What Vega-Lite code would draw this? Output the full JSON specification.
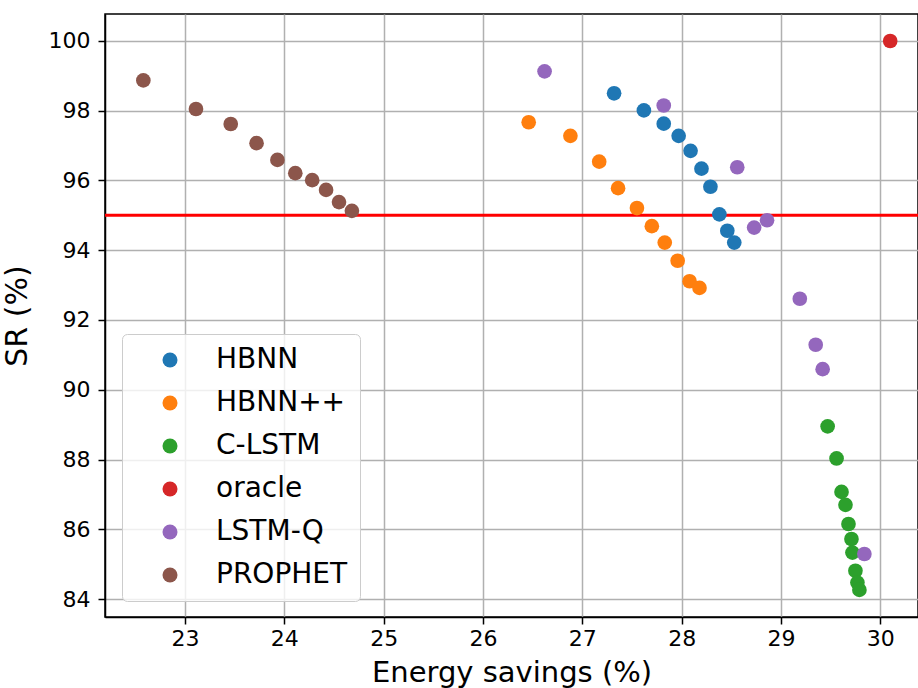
{
  "$schema": "https://vega.github.io/schema/vega-lite/v6.json",
  "width": 813,
  "height": 603,
  "autosize": {"type": "none"},
  "padding": {"left": 105, "top": 14, "right": 0, "bottom": 71},
  "background": "white",
  "config": {
    "font": "DejaVu Sans",
    "view": {"stroke": "black", "strokeWidth": 1.5},
    "axis": {
      "labelFont": "DejaVu Sans",
      "titleFont": "DejaVu Sans",
      "labelColor": "black",
      "titleColor": "black",
      "labelFontSize": 22,
      "titleFontSize": 29,
      "titleFontWeight": "normal",
      "domainColor": "black",
      "domainWidth": 1.5,
      "tickColor": "black",
      "tickWidth": 1.5,
      "tickSize": 7,
      "gridColor": "#b0b0b0",
      "gridWidth": 1.5,
      "gridOpacity": 1
    }
  },
  "datasets": {
    "points": [
      {"method": "HBNN", "es": 27.32, "sr": 98.50},
      {"method": "HBNN", "es": 27.62, "sr": 98.01},
      {"method": "HBNN", "es": 27.82, "sr": 97.63},
      {"method": "HBNN", "es": 27.97, "sr": 97.28},
      {"method": "HBNN", "es": 28.09, "sr": 96.85},
      {"method": "HBNN", "es": 28.20, "sr": 96.34},
      {"method": "HBNN", "es": 28.29, "sr": 95.82},
      {"method": "HBNN", "es": 28.38, "sr": 95.03},
      {"method": "HBNN", "es": 28.46, "sr": 94.56},
      {"method": "HBNN", "es": 28.53, "sr": 94.22},
      {"method": "HBNN++", "es": 26.46, "sr": 97.67},
      {"method": "HBNN++", "es": 26.88, "sr": 97.28},
      {"method": "HBNN++", "es": 27.17, "sr": 96.54},
      {"method": "HBNN++", "es": 27.36, "sr": 95.78},
      {"method": "HBNN++", "es": 27.55, "sr": 95.21},
      {"method": "HBNN++", "es": 27.70, "sr": 94.69},
      {"method": "HBNN++", "es": 27.83, "sr": 94.22},
      {"method": "HBNN++", "es": 27.96, "sr": 93.70},
      {"method": "HBNN++", "es": 28.08, "sr": 93.11},
      {"method": "HBNN++", "es": 28.18, "sr": 92.92},
      {"method": "C-LSTM", "es": 29.47, "sr": 88.95},
      {"method": "C-LSTM", "es": 29.56, "sr": 88.03},
      {"method": "C-LSTM", "es": 29.61, "sr": 87.07},
      {"method": "C-LSTM", "es": 29.65, "sr": 86.70},
      {"method": "C-LSTM", "es": 29.68, "sr": 86.15},
      {"method": "C-LSTM", "es": 29.71, "sr": 85.72},
      {"method": "C-LSTM", "es": 29.72, "sr": 85.33},
      {"method": "C-LSTM", "es": 29.75, "sr": 84.81},
      {"method": "C-LSTM", "es": 29.77, "sr": 84.47},
      {"method": "C-LSTM", "es": 29.79, "sr": 84.26},
      {"method": "oracle", "es": 30.10, "sr": 100.0},
      {"method": "LSTM-Q", "es": 26.62, "sr": 99.13},
      {"method": "LSTM-Q", "es": 27.82, "sr": 98.15},
      {"method": "LSTM-Q", "es": 28.56, "sr": 96.38},
      {"method": "LSTM-Q", "es": 28.73, "sr": 94.65},
      {"method": "LSTM-Q", "es": 28.86, "sr": 94.86},
      {"method": "LSTM-Q", "es": 29.19, "sr": 92.61},
      {"method": "LSTM-Q", "es": 29.35, "sr": 91.29},
      {"method": "LSTM-Q", "es": 29.42, "sr": 90.59},
      {"method": "LSTM-Q", "es": 29.84, "sr": 85.29},
      {"method": "PROPHET", "es": 22.58, "sr": 98.87},
      {"method": "PROPHET", "es": 23.11, "sr": 98.05},
      {"method": "PROPHET", "es": 23.46, "sr": 97.62},
      {"method": "PROPHET", "es": 23.72, "sr": 97.07},
      {"method": "PROPHET", "es": 23.93, "sr": 96.59},
      {"method": "PROPHET", "es": 24.11, "sr": 96.21},
      {"method": "PROPHET", "es": 24.28, "sr": 96.01},
      {"method": "PROPHET", "es": 24.42, "sr": 95.73},
      {"method": "PROPHET", "es": 24.55, "sr": 95.38},
      {"method": "PROPHET", "es": 24.68, "sr": 95.13}
    ],
    "threshold": [{"sr": 95}]
  },
  "layer": [
    {
      "data": {"name": "threshold"},
      "mark": {"type": "rule", "color": "#ff0000", "strokeWidth": 3},
      "encoding": {
        "y": {"field": "sr", "type": "quantitative"}
      }
    },
    {
      "data": {"name": "points"},
      "mark": {"type": "circle", "size": 215, "opacity": 1},
      "encoding": {
        "x": {
          "field": "es",
          "type": "quantitative",
          "title": "Energy savings (%)",
          "scale": {"domain": [22.194, 30.38], "nice": false, "zero": false},
          "axis": {"values": [23, 24, 25, 26, 27, 28, 29, 30], "labelPadding": 4, "titlePadding": 9}
        },
        "y": {
          "field": "sr",
          "type": "quantitative",
          "title": "SR (%)",
          "scale": {"domain": [83.484, 100.774], "nice": false, "zero": false},
          "axis": {"values": [84, 86, 88, 90, 92, 94, 96, 98, 100], "labelPadding": 8, "titlePadding": 16, "titleFontSize": 30}
        },
        "color": {
          "field": "method",
          "type": "nominal",
          "sort": null,
          "scale": {
            "domain": ["HBNN", "HBNN++", "C-LSTM", "oracle", "LSTM-Q", "PROPHET"],
            "range": ["#1f77b4", "#ff7f0e", "#2ca02c", "#d62728", "#9467bd", "#8c564b"]
          },
          "legend": {
            "title": null,
            "orient": "none",
            "legendX": 17,
            "legendY": 320,
            "padding": 12,
            "symbolType": "circle",
            "symbolSize": 225,
            "symbolOffset": 22,
            "symbolOpacity": 1,
            "labelFont": "DejaVu Sans",
            "labelFontSize": 28,
            "labelColor": "black",
            "labelOffset": 32,
            "rowPadding": 15,
            "fillColor": "rgba(255,255,255,0.8)",
            "strokeColor": "#cccccc",
            "cornerRadius": 5
          }
        }
      }
    }
  ]
}
